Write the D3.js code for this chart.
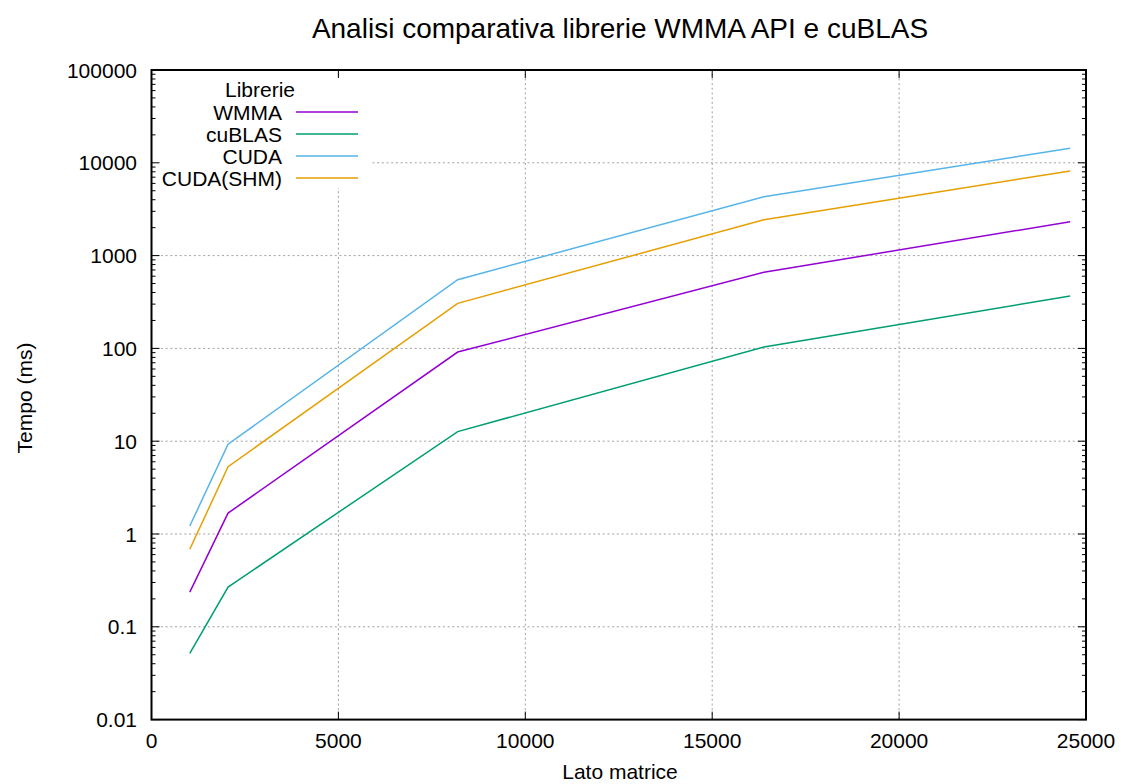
<!DOCTYPE html>
<html><head><meta charset="utf-8">
<script src="https://cdn.jsdelivr.net/npm/d3@7"></script>
<style>body{margin:0;background:#fff}svg{display:block}text{font-family:"Liberation Sans",Arial,sans-serif;fill:#000}</style>
</head><body><svg id="c" width="1121" height="784"></svg>
<script>
const xVals = [1024, 2048, 8192, 16384, 24576];
const seriesNames = ["WMMA", "cuBLAS", "CUDA", "CUDA(SHM)"];
const wmma = [0.236, 1.68, 91.4, 661, 2319];
const cublas = [0.0517, 0.268, 12.7, 103.5, 367];
const cuda = [1.22, 9.27, 550, 4313, 14330];
const cudaShm = [0.684, 5.31, 306, 2437, 8166];
const colors = ["#9400d3", "#009e73", "#56b4e9", "#e69f00"];
const xTicks = [0, 5000, 10000, 15000, 20000, 25000];
const yTicks = [0.01, 0.1, 1, 10, 100, 1000, 10000, 100000];
const yTickLabels = ["0.01", "0.1", "1", "10", "100", "1000", "10000", "100000"];
const seriesVals = [wmma, cublas, cuda, cudaShm];

const FS = 21;
const svg = d3.select("#c");
const L = 151.5, R = 1086, T = 70, B = 719.6;
const x = d3.scaleLinear().domain([0, 25000]).range([L, R]);
const y = d3.scaleLog().domain([0.01, 100000]).range([B, T]);

// grid
const grid = svg.append("g").attr("stroke", "#a0a0a0").attr("stroke-width", 1).attr("stroke-dasharray", "2,2.7");
xTicks.slice(1, -1).forEach(t => grid.append("line").attr("x1", x(t)).attr("x2", x(t)).attr("y1", B).attr("y2", T));
yTicks.slice(1, -1).forEach(t => grid.append("line").attr("x1", L).attr("x2", R).attr("y1", y(t)).attr("y2", y(t)));

// key background (opaque)
svg.append("rect").attr("x", L + 1).attr("y", 78).attr("width", 370 - L - 1).attr("height", 110).attr("fill", "#fff");

// ticks (inside, mirrored)
const tk = svg.append("g").attr("stroke", "#000").attr("stroke-width", 1);
xTicks.forEach(t => {
  tk.append("line").attr("x1", x(t)).attr("x2", x(t)).attr("y1", B).attr("y2", B - 8);
  tk.append("line").attr("x1", x(t)).attr("x2", x(t)).attr("y1", T).attr("y2", T + 8);
});
yTicks.forEach((t, i) => {
  tk.append("line").attr("x1", L).attr("x2", L + 8).attr("y1", y(t)).attr("y2", y(t));
  tk.append("line").attr("x1", R).attr("x2", R - 8).attr("y1", y(t)).attr("y2", y(t));
  if (i < yTicks.length - 1) {
    for (let m = 2; m <= 9; m++) {
      const v = t * m;
      tk.append("line").attr("x1", L).attr("x2", L + 4).attr("y1", y(v)).attr("y2", y(v));
      tk.append("line").attr("x1", R).attr("x2", R - 4).attr("y1", y(v)).attr("y2", y(v));
    }
  }
});

// tick labels
xTicks.forEach(t => svg.append("text").attr("x", x(t)).attr("y", 748).attr("text-anchor", "middle").attr("font-size", FS).text(t));
yTicks.forEach((t, i) => svg.append("text").attr("x", 137).attr("y", y(t) + 7.5).attr("text-anchor", "end").attr("font-size", FS).text(yTickLabels[i]));

// lines
const line = d3.line().x((d, i) => x(xVals[i])).y(d => y(d));
seriesVals.forEach((vals, s) => {
  svg.append("path").datum(vals).attr("d", line).attr("fill", "none").attr("stroke", colors[s]).attr("stroke-width", 1.5);
});

// border
svg.append("rect").attr("x", L).attr("y", T).attr("width", R - L).attr("height", B - T).attr("fill", "none").attr("stroke", "#000").attr("stroke-width", 2);

// legend
svg.append("text").attr("x", 260).attr("y", 97).attr("text-anchor", "middle").attr("font-size", FS).text("Librerie");
seriesNames.forEach((n, s) => {
  const yy = 112 + s * 22;
  svg.append("text").attr("x", 282).attr("y", yy + 7.5).attr("text-anchor", "end").attr("font-size", FS).text(n);
  svg.append("line").attr("x1", 296).attr("x2", 358).attr("y1", yy).attr("y2", yy).attr("stroke", colors[s]).attr("stroke-width", 1.5);
});

// titles
svg.append("text").attr("x", 620).attr("y", 38).attr("text-anchor", "middle").attr("font-size", 28).text("Analisi comparativa librerie WMMA API e cuBLAS");
svg.append("text").attr("x", 620).attr("y", 779).attr("text-anchor", "middle").attr("font-size", FS).text("Lato matrice");
svg.append("text").attr("transform", "translate(32,398) rotate(-90)").attr("text-anchor", "middle").attr("font-size", FS).text("Tempo (ms)");
</script></body></html>
